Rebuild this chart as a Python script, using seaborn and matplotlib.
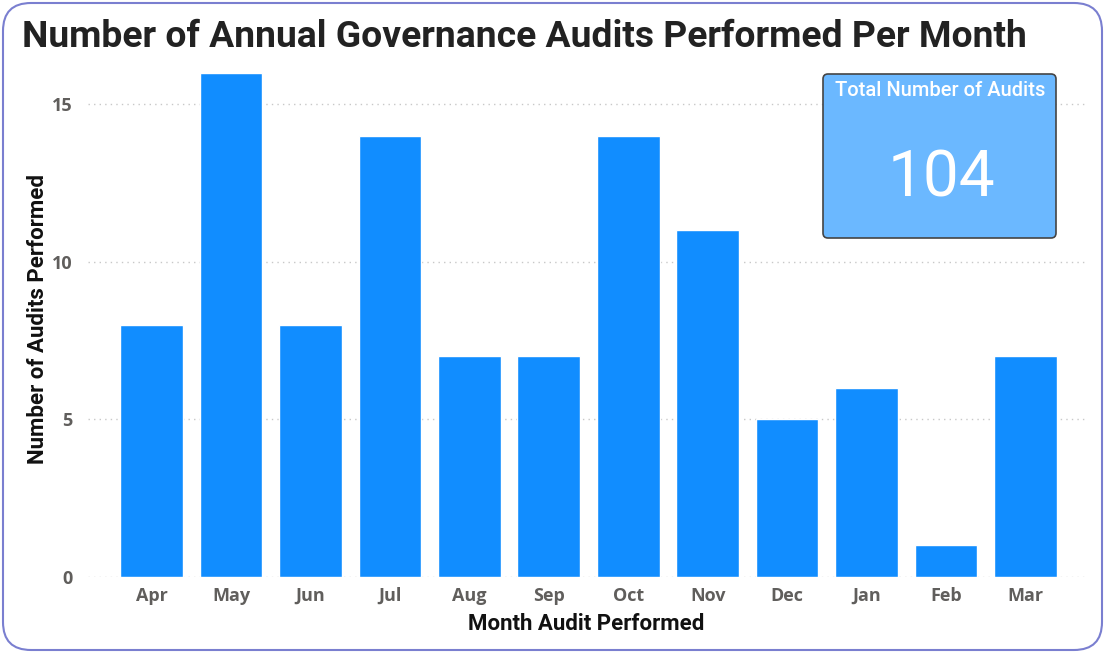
import pandas as pd
import matplotlib.pyplot as plt
import matplotlib.patches as mpatches
import seaborn as sns

# Dados do gráfico
meses = ["Apr", "May", "Jun", "Jul", "Aug", "Sep", "Oct", "Nov", "Dec", "Jan", "Feb", "Mar"]
auditorias = [8, 16, 8, 14, 7, 7, 14, 11, 5, 6, 1, 7]
total_label = "Total Number of Audits"

df = pd.DataFrame({"mes": meses, "qtd": auditorias})

sns.set_style("white")
plt.rcParams["font.family"] = ["Roboto", "DejaVu Sans"]

fig = plt.figure(figsize=(11.05, 6.53), dpi=100)
ax = fig.add_axes([88 / 1105, 1 - 577 / 653, 997 / 1105, (577 - 60) / 653])

sns.barplot(data=df, x="mes", y="qtd", color="#118DFF", saturation=1, width=0.79, ax=ax, zorder=3)

ax.set_ylim(0, (577 - 60) / 31.53)
ax.set_xlim(-0.8, 11.75)
ax.set_yticks([0, 5, 10, 15])
ax.grid(axis="y", linestyle=(0, (1, 3)), color="#c8c8c8", linewidth=1, zorder=0)
ax.grid(axis="x", visible=False)
sns.despine(ax=ax, left=True, bottom=True)
ax.tick_params(axis="x", length=0, pad=7)
ax.tick_params(axis="y", length=0, pad=11)
for t in ax.get_xticklabels() + ax.get_yticklabels():
    t.set_fontfamily(["Open Sans", "DejaVu Sans"])
    t.set_fontweight("bold")
    t.set_fontsize(13)
    t.set_color("#605E5C")

ax.set_xlabel("Month Audit Performed", fontsize=16, fontweight="bold", color="#111111", labelpad=6)
ax.set_ylabel("Number of Audits Performed", fontsize=16, fontweight="bold", color="#111111", labelpad=2)

# Titulo
fig.text(22 / 1105, 1 - 37 / 653, "Number of Annual Governance Audits Performed Per Month",
         fontsize=26.8, fontweight="bold", color="#222222", va="center", ha="left")

# Cartao com o total
card = mpatches.FancyBboxPatch((823, 653 - 238), 233, 164,
                               boxstyle="round,pad=0,rounding_size=5",
                               facecolor="#6BB8FF", edgecolor="#444444", linewidth=1.2,
                               transform=None, zorder=5)
fig.patches.append(card)
fig.text(940 / 1105, 1 - 91 / 653, total_label, fontsize=14.5, color="white",
         fontweight="medium", ha="center", va="center", zorder=6)
fig.text(941 / 1105, 1 - 179 / 653, str(sum(auditorias)), fontsize=46, color="white",
         ha="center", va="center", zorder=6)

# Moldura externa
frame = mpatches.FancyBboxPatch((3, 3), 1099, 647,
                                boxstyle="round,pad=0,rounding_size=28",
                                facecolor="none", edgecolor="#7A7FD0", linewidth=1.5,
                                transform=None, zorder=10)
fig.patches.append(frame)

fig.savefig("out.png", dpi=100)
